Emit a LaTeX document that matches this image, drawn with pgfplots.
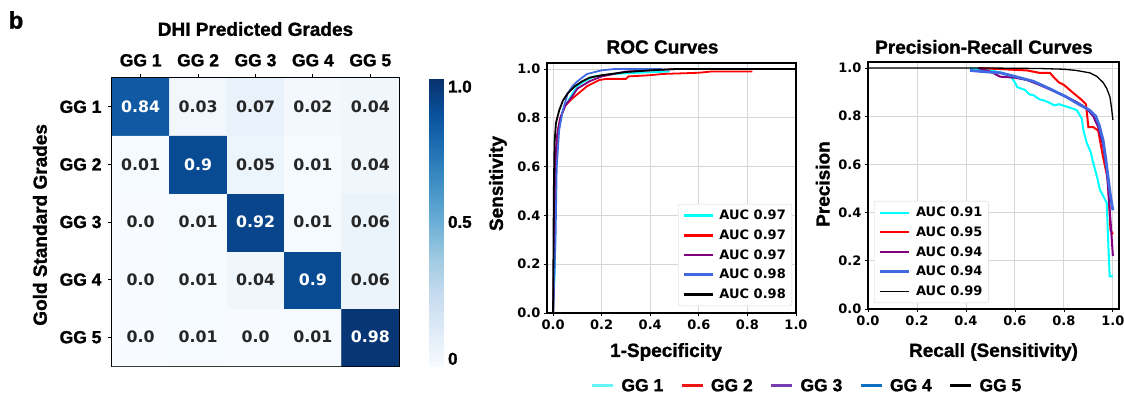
\documentclass[border=0pt]{standalone}
\usepackage{fontspec}
\setmainfont{Liberation Sans}[BoldFeatures={FakeBold=1.2}]
\newfontfamily\dvfont{DejaVu Sans}
\usepackage{pgfplots}
\pgfplotsset{compat=1.18}
\usepackage{pgfplotstable}

\definecolor{txtdark}{HTML}{262626}
\definecolor{roccyan}{RGB}{0,255,255}
\definecolor{rocred}{RGB}{255,0,0}
\definecolor{rocpurple}{RGB}{128,0,128}
\definecolor{rocblue}{RGB}{65,105,225}
\definecolor{legcyan}{RGB}{102,245,245}
\definecolor{legred}{RGB}{240,20,20}
\definecolor{legpurple}{RGB}{118,60,178}
\definecolor{legblue}{RGB}{14,112,192}
\definecolor{gridgray}{RGB}{215,215,215}

\newcommand{\labfont}{\bfseries\fontsize{19}{22}\selectfont}
\newcommand{\ggfont}{\bfseries\fontsize{17.5}{20}\selectfont}
\newcommand{\numfont}{\dvfont\bfseries\fontsize{13}{15}\selectfont}
\newcommand{\cellfont}{\dvfont\bfseries\fontsize{15.8}{18}\selectfont}

\pgfplotsset{every axis title shift=0pt}

\pgfplotstableread{
x y c lab
0 0 0.00 0.0
1 0 0.01 0.01
2 0 0.00 0.0
3 0 0.01 0.01
4 0 0.98 0.98
0 1 0.00 0.0
1 1 0.01 0.01
2 1 0.04 0.04
3 1 0.90 0.9
4 1 0.06 0.06
0 2 0.00 0.0
1 2 0.01 0.01
2 2 0.92 0.92
3 2 0.01 0.01
4 2 0.06 0.06
0 3 0.01 0.01
1 3 0.90 0.9
2 3 0.05 0.05
3 3 0.01 0.01
4 3 0.04 0.04
0 4 0.84 0.84
1 4 0.03 0.03
2 4 0.07 0.07
3 4 0.02 0.02
4 4 0.04 0.04
}\cmtable

\pgfplotstableread{
x y lab
1 0 0.01
0 0 0.0
2 0 0.0
3 0 0.01
0 1 0.0
1 1 0.01
2 1 0.04
4 1 0.06
0 2 0.0
1 2 0.01
3 2 0.01
4 2 0.06
0 3 0.01
2 3 0.05
3 3 0.01
4 3 0.04
1 4 0.03
2 4 0.07
3 4 0.02
4 4 0.04
}\darklabels

\pgfplotstableread{
x y lab
0 4 0.84
1 3 0.9
2 2 0.92
3 1 0.9
4 0 0.98
}\lightlabels

\begin{document}
\begin{tikzpicture}[x=1pt,y=1pt]
\useasboundingbox (0,0) rectangle (1124,397);
\node[font=\bfseries\fontsize{24}{28}\selectfont] at (16,377) {b};

% ---------------- Confusion matrix ----------------
\begin{axis}[
  at={(112pt,31pt)}, anchor=south west, scale only axis,
  width=287pt, height=288pt,
  xmin=-0.5, xmax=4.5, ymin=-0.5, ymax=4.5,
  xtick={0,1,2,3,4}, ytick={0,1,2,3,4},
  xticklabels={GG 1,GG 2,GG 3,GG 4,GG 5},
  yticklabels={GG 5,GG 4,GG 3,GG 2,GG 1},
  xtick pos=top, xticklabel pos=top, ytick pos=left,
  tick align=outside, major tick length=4pt,
  tick style={black, line width=1pt},
  ticklabel style={font=\ggfont},
  xticklabel style={yshift=4pt},
  yticklabel style={xshift=-3pt},
  axis line style={line width=1.2pt},
  title={DHI Predicted Grades},
  title style={font=\labfont, at={(0.5,1.17)}, anchor=center, yshift=0pt},
  ylabel={Gold Standard Grades},
  ylabel style={font=\labfont, at={(-0.251,0.49)}, anchor=center},
  colormap={blues}{rgb255=(247,251,255) rgb255=(222,235,247) rgb255=(198,219,239) rgb255=(158,202,225) rgb255=(107,174,214) rgb255=(66,146,198) rgb255=(33,113,181) rgb255=(8,81,156) rgb255=(8,48,107)},
  point meta min=0, point meta max=1,
  colorbar,
  colorbar style={
    at={(parent axis.north east)}, anchor=north west, xshift=22pt,
    scale only axis, width=14pt, height=288pt,
    ytick={0.025,0.5,0.97}, yticklabels={0,0.5,1.0},
    ytick style={draw=none}, major tick length=0pt,
    axis line style={draw=none},
    yticklabel style={font=\bfseries\fontsize{17}{19}\selectfont, xshift=1pt},
  },
]
\addplot[matrix plot*, mesh/cols=5, point meta=explicit] table[x=x, y=y, meta=c] {\cmtable};
\addplot[draw=none, mark=none, point meta=explicit symbolic, nodes near coords,
  nodes near coords align=center,
  nodes near coords style={font=\cellfont, text=txtdark, anchor=center}]
  table[x=x, y=y, meta=lab] {\darklabels};
\addplot[draw=none, mark=none, point meta=explicit symbolic, nodes near coords,
  nodes near coords align=center,
  nodes near coords style={font=\cellfont, text=white, anchor=center}]
  table[x=x, y=y, meta=lab] {\lightlabels};
\end{axis}

% ---------------- ROC ----------------
\begin{axis}[
  at={(547pt,84pt)}, anchor=south west, scale only axis,
  width=249pt, height=250pt,
  xmin=-0.025, xmax=1, ymin=0, ymax=1.025,
  xtick={0,0.2,0.4,0.6,0.8,1}, ytick={0,0.2,0.4,0.6,0.8,1},
  xticklabels={0.0,0.2,0.4,0.6,0.8,1.0}, yticklabels={0.0,0.2,0.4,0.6,0.8,1.0},
  xtick pos=bottom, ytick pos=left,
  tick align=outside, major tick length=3pt,
  tick style={black, line width=0.8pt},
  ticklabel style={font=\numfont},
  grid=major, major grid style={gridgray, line width=0.9pt},
  axis line style={line width=1.6pt},
  title={ROC Curves},
  title style={font=\labfont, at={(0.464,1.064)}, anchor=center, yshift=0pt},
  xlabel={1-Specificity},
  xlabel style={font=\labfont, at={(0.478,-0.156)}, anchor=center},
  ylabel={Sensitivity},
  ylabel style={font=\labfont, at={(-0.197,0.518)}, anchor=center},
  legend style={at={(0.984,0.028)}, anchor=south east, draw=gridgray, rounded corners=2pt,
    font=\numfont, row sep=4.5pt, inner xsep=4pt, inner ysep=4pt},
  legend cell align=left,
  legend image code/.code={\draw[#1, line width=2.6pt] (0pt,0pt) -- (29pt,0pt); \path (33pt,0pt);},
]
\addplot[roccyan, line width=1.8pt] coordinates {(0,0) (0.008,0.2) (0.01,0.5) (0.015,0.65) (0.02,0.75) (0.03,0.8) (0.05,0.85) (0.08,0.9) (0.1,0.93) (0.13,0.95) (0.17,0.97) (0.25,0.98) (0.35,0.985) (0.48,0.99)};
\addlegendentry{AUC 0.97}
\addplot[rocred, line width=1.8pt] coordinates {(0,0) (0.007,0.3) (0.01,0.6) (0.02,0.75) (0.03,0.8) (0.05,0.85) (0.08,0.88) (0.11,0.905) (0.14,0.93) (0.19,0.955) (0.22,0.96) (0.3,0.96) (0.31,0.97) (0.4,0.975) (0.45,0.98) (0.6,0.985) (0.65,0.99) (0.82,0.99)};
\addlegendentry{AUC 0.97}
\addplot[rocpurple, line width=1.8pt] coordinates {(0,0) (0.005,0.3) (0.008,0.6) (0.015,0.72) (0.03,0.8) (0.05,0.85) (0.08,0.89) (0.1,0.92) (0.15,0.95) (0.2,0.97) (0.3,0.99) (0.4,0.995) (0.5,1.0)};
\addlegendentry{AUC 0.97}
\addplot[rocblue, line width=1.8pt] coordinates {(0,0) (0.01,0.3) (0.015,0.6) (0.025,0.75) (0.04,0.83) (0.06,0.9) (0.08,0.93) (0.1,0.95) (0.14,0.98) (0.18,0.99) (0.2,0.995) (0.25,1.0) (0.45,1.0)};
\addlegendentry{AUC 0.98}
\addplot[black, line width=1.8pt] coordinates {(0,0) (0.003,0.5) (0.006,0.7) (0.012,0.78) (0.025,0.83) (0.04,0.87) (0.06,0.9) (0.09,0.93) (0.12,0.95) (0.15,0.965) (0.2,0.975) (0.3,0.988) (0.4,0.995) (0.5,1.0) (1.0,1.0)};
\addlegendentry{AUC 0.98}
\end{axis}

% ---------------- Precision-Recall ----------------
\begin{axis}[
  at={(868pt,88pt)}, anchor=south west, scale only axis,
  width=251pt, height=247pt,
  xmin=0, xmax=1.025, ymin=0, ymax=1.025,
  xtick={0,0.2,0.4,0.6,0.8,1}, ytick={0,0.2,0.4,0.6,0.8,1},
  xticklabels={0.0,0.2,0.4,0.6,0.8,1.0}, yticklabels={0.0,0.2,0.4,0.6,0.8,1.0},
  xtick pos=bottom, ytick pos=left,
  tick align=outside, major tick length=3pt,
  tick style={black, line width=0.8pt},
  ticklabel style={font=\numfont},
  grid=major, major grid style={gridgray, line width=0.9pt},
  axis line style={line width=1.6pt},
  title={Precision-Recall Curves},
  title style={font=\labfont, at={(0.462,1.061)}, anchor=center, yshift=0pt},
  xlabel={Recall (Sensitivity)},
  xlabel style={font=\labfont, at={(0.5,-0.174)}, anchor=center},
  ylabel={Precision},
  ylabel style={font=\labfont, at={(-0.18,0.506)}, anchor=center},
  legend style={at={(0.024,0.024)}, anchor=south west, draw=gridgray, rounded corners=2pt,
    font=\numfont, row sep=4.5pt, inner xsep=4pt, inner ysep=4pt},
  legend cell align=left,
  legend image code/.code={\draw[#1] (0pt,0pt) -- (29pt,0pt); \path (33pt,0pt);},
]
\addplot[roccyan, line width=2pt] coordinates {(0.416,1.0) (0.45,0.995) (0.5,0.99) (0.55,0.98) (0.58,0.97) (0.6,0.94) (0.61,0.92) (0.64,0.91) (0.66,0.89) (0.675,0.888) (0.7,0.87) (0.72,0.865) (0.743,0.855) (0.76,0.845) (0.78,0.85) (0.81,0.84) (0.84,0.83) (0.853,0.825) (0.873,0.79) (0.88,0.74) (0.893,0.69) (0.91,0.65) (0.92,0.605) (0.935,0.55) (0.947,0.495) (0.96,0.47) (0.975,0.44) (0.98,0.3) (0.987,0.135) (1.0,0.135)};
\addlegendentry{AUC 0.91}
\addplot[rocred, line width=2pt] coordinates {(0.45,1.0) (0.55,0.995) (0.65,0.99) (0.7,0.98) (0.743,0.98) (0.76,0.96) (0.78,0.94) (0.8,0.93) (0.84,0.895) (0.87,0.87) (0.89,0.85) (0.9,0.755) (0.92,0.755) (0.94,0.74) (0.96,0.63) (0.98,0.535) (0.99,0.33) (1.0,0.31)};
\addlegendentry{AUC 0.95}
\addplot[rocpurple, line width=2pt] coordinates {(0.45,1.0) (0.5,0.985) (0.54,0.964) (0.6,0.96) (0.65,0.95) (0.7,0.93) (0.78,0.895) (0.85,0.86) (0.89,0.835) (0.92,0.8) (0.94,0.755) (0.96,0.68) (0.975,0.575) (0.99,0.37) (1.0,0.22)};
\addlegendentry{AUC 0.94}
\addplot[rocblue, line width=2.8pt] coordinates {(0.416,0.99) (0.47,0.985) (0.54,0.98) (0.6,0.965) (0.675,0.945) (0.74,0.915) (0.81,0.88) (0.86,0.85) (0.905,0.825) (0.93,0.8) (0.945,0.76) (0.96,0.70) (0.97,0.63) (0.98,0.55) (0.99,0.47) (1.0,0.41)};
\addlegendentry{AUC 0.94}
\addplot[black, line width=1.3pt] coordinates {(0,1.0) (0.5,1.0) (0.7,0.998) (0.8,0.995) (0.85,0.99) (0.906,0.98) (0.935,0.965) (0.96,0.94) (0.975,0.915) (0.988,0.88) (0.995,0.83) (1.0,0.785)};
\addlegendentry{AUC 0.99}
\end{axis}

% ---------------- shared legend ----------------
\begin{axis}[
  at={(0pt,0pt)}, anchor=south west, scale only axis,
  width=1124pt, height=397pt, hide axis,
  xmin=0, xmax=1, ymin=0, ymax=1,
  legend columns=5,
  legend style={at={(0.718,0.028)}, anchor=center, draw=none, fill=none,
    font=\ggfont, /tikz/every even column/.append style={column sep=15pt}},
  legend image code/.code={\draw[#1, line width=3pt] (0pt,0pt) -- (21pt,0pt); \path (27pt,0pt);},
]
\addlegendimage{legcyan}\addlegendentry{GG 1}
\addlegendimage{legred}\addlegendentry{GG 2}
\addlegendimage{legpurple}\addlegendentry{GG 3}
\addlegendimage{legblue}\addlegendentry{GG 4}
\addlegendimage{black}\addlegendentry{GG 5}
\end{axis}
\end{tikzpicture}
\end{document}
